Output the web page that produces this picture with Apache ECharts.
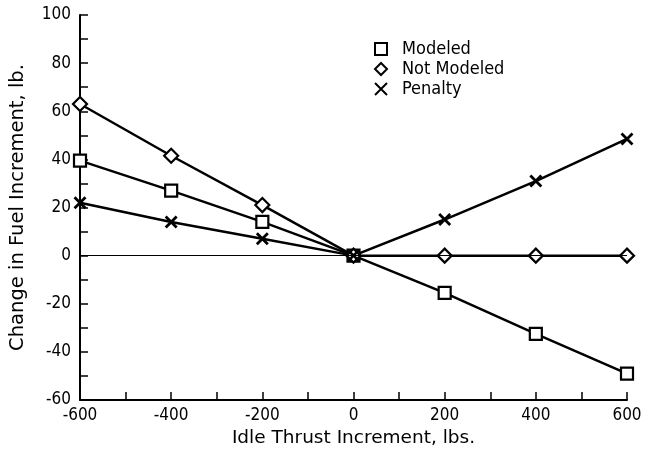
<!DOCTYPE html>
<html><head><meta charset="utf-8">
<script src="https://cdn.jsdelivr.net/npm/echarts@6/dist/echarts.min.js"></script>
<style>html,body{margin:0;padding:0;background:#fff}#c{width:655px;height:464px}</style>
</head><body><div id="c"></div>
<script>
const thrust = [-600, -400, -200, 0, 200, 400, 600];
const modeled = [39.5, 27, 14, 0, -15.5, -32.5, -49];
const notModeled = [63, 41.5, 21, 0, 0, 0, 0];
const penalty = [22, 14, 7, 0, 15, 31, 48.5];
const seriesNames = ['Modeled', 'Not Modeled', 'Penalty'];
const xTitle = 'Idle Thrust Increment, lbs.';
const yTitle = 'Change in Fuel Increment, lb.';

const FONT = "'Liberation Sans Narrow', 'DejaVu Sans Condensed', sans-serif";
const NAMEFONT = "'DejaVu Sans', sans-serif";
const pair = arr => thrust.map((x, i) => [x, arr[i]]);
const xPath = 'path://M0,0L10,10M10,0L0,10';

const chart = echarts.init(document.getElementById('c'), null, {renderer: 'canvas'});
const base = {type: 'line', lineStyle: {color: '#000', width: 2.5}, z: 3, animation: false};
chart.setOption({
  backgroundColor: '#fff',
  animation: false,
  grid: {left: 79, right: 28, top: 15, bottom: 64},
  legend: {
    orient: 'vertical', left: 369, top: 35, itemGap: 2, itemWidth: 12, itemHeight: 12,
    textStyle: {fontFamily: FONT, fontSize: 18, color: '#000', padding: [0, 0, 0, 10]},
    data: [
      {name: seriesNames[0], icon: 'rect'},
      {name: seriesNames[1], icon: 'diamond'},
      {name: seriesNames[2], icon: xPath}
    ]
  },
  xAxis: {
    type: 'value', min: -600, max: 600, interval: 100,
    name: xTitle, nameLocation: 'middle', nameGap: 29,
    nameTextStyle: {fontFamily: NAMEFONT, fontSize: 18.5, color: '#000'},
    axisLine: {onZero: false, lineStyle: {color: '#000', width: 2}},
    axisTick: {inside: true, length: 8, lineStyle: {color: '#000', width: 1.5}},
    axisLabel: {fontFamily: FONT, fontSize: 17, color: '#000', margin: 7,
      formatter: v => (v % 200 === 0 ? String(v) : '')},
    splitLine: {show: false}
  },
  yAxis: {
    type: 'value', min: -60, max: 100, interval: 10,
    name: yTitle, nameLocation: 'middle', nameGap: 52, nameRotate: 90,
    nameTextStyle: {fontFamily: NAMEFONT, fontSize: 19.5, color: '#000'},
    axisLine: {show: true, onZero: false, lineStyle: {color: '#000', width: 2}},
    axisTick: {show: true, inside: true, length: 8, lineStyle: {color: '#000', width: 1.5}},
    axisLabel: {fontFamily: FONT, fontSize: 17, color: '#000', margin: 9,
      formatter: v => (v % 20 === 0 ? String(v) : '')},
    splitLine: {show: false}
  },
  series: [
    Object.assign({}, base, {
      name: seriesNames[0], data: pair(modeled), symbol: 'rect', symbolSize: 12,
      itemStyle: {color: '#fff', borderColor: '#000', borderWidth: 2.2},
      markLine: {silent: true, symbol: 'none', label: {show: false},
        lineStyle: {color: '#000', width: 1, type: 'solid'}, data: [{yAxis: 0}], animation: false}
    }),
    Object.assign({}, base, {
      name: seriesNames[1], data: pair(notModeled), symbol: 'diamond', symbolSize: 14,
      itemStyle: {color: '#fff', borderColor: '#000', borderWidth: 2.2}
    }),
    Object.assign({}, base, {
      name: seriesNames[2], data: pair(penalty), symbol: xPath, symbolSize: 11,
      itemStyle: {color: '#000', borderColor: '#000', borderWidth: 2.8}
    })
  ]
});
</script></body></html>
